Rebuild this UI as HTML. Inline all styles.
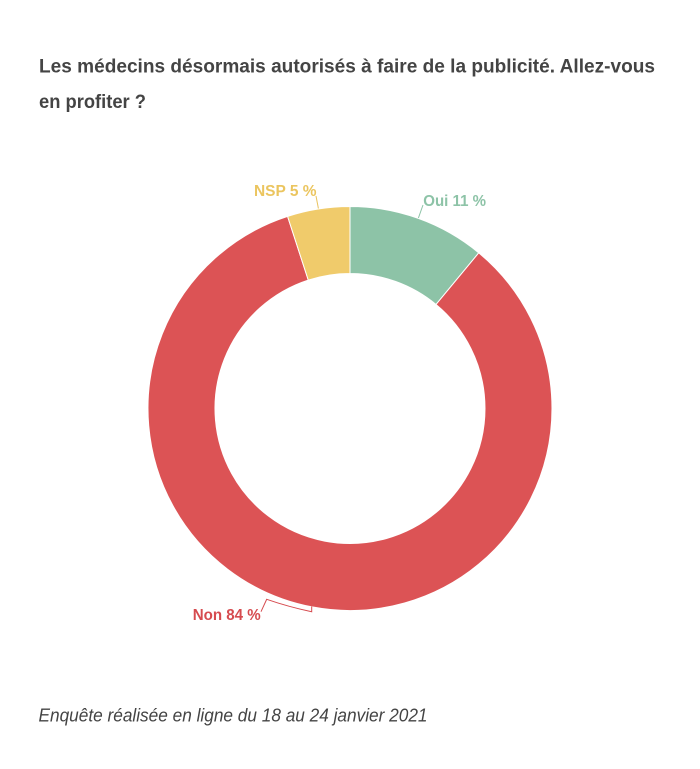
<!DOCTYPE html>
<html>
<head>
<meta charset="utf-8">
<style>
  html, body { margin: 0; padding: 0; background: #ffffff; }
  body { width: 700px; height: 769px; overflow: hidden; }
  svg { display: block; }
</style>
</head>
<body>
<svg width="700" height="769" viewBox="0 0 700 769" xmlns="http://www.w3.org/2000/svg">
  <rect x="0" y="0" width="700" height="769" fill="#ffffff"/>

  <!-- Title -->
  <text x="39" y="72.5" font-family="Liberation Sans, Arial, sans-serif" font-size="19.5" font-weight="bold" fill="#444444" textLength="616" lengthAdjust="spacingAndGlyphs">Les médecins désormais autorisés à faire de la publicité. Allez-vous</text>
  <text x="39" y="108" font-family="Liberation Sans, Arial, sans-serif" font-size="19.5" font-weight="bold" fill="#444444" textLength="107" lengthAdjust="spacingAndGlyphs">en profiter ?</text>

  <!-- Donut -->
  <g stroke="#ffffff" stroke-width="1" stroke-linejoin="round">
    <path d="M350 206.5 A202 202 0 0 1 478.75 252.86 L436.05 304.48 A135 135 0 0 0 350 273.5 Z" fill="#8dc3a7"/>
    <path d="M478.75 252.86 A202 202 0 1 1 287.58 216.38 L308.28 280.10 A135 135 0 1 0 436.05 304.48 Z" fill="#dc5355"/>
    <path d="M287.58 216.38 A202 202 0 0 1 350 206.5 L350 273.5 A135 135 0 0 0 308.28 280.10 Z" fill="#f0cb6b"/>
  </g>

  <!-- Leader lines -->
  <polyline points="316,196 318.4,208.5" fill="none" stroke="#e9c35f" stroke-width="1"/>
  <polyline points="423,205 418.4,218" fill="none" stroke="#8dc3a7" stroke-width="1"/>
  <path d="M311.7 606.5 L311.7 611.7 Q289 607 266.7 599.3 L261 611.7" fill="none" stroke="#d64b4f" stroke-width="1"/>

  <!-- Labels -->
  <text x="254" y="196" font-family="Liberation Sans, Arial, sans-serif" font-size="16" font-weight="bold" fill="#ebc55f" textLength="62.5" lengthAdjust="spacingAndGlyphs">NSP 5 %</text>
  <text x="423.3" y="206" font-family="Liberation Sans, Arial, sans-serif" font-size="16" font-weight="bold" fill="#8dc3a7" textLength="62.7" lengthAdjust="spacingAndGlyphs">Oui 11 %</text>
  <text x="192.7" y="620" font-family="Liberation Sans, Arial, sans-serif" font-size="16" font-weight="bold" fill="#d64b4f" textLength="68" lengthAdjust="spacingAndGlyphs">Non 84 %</text>

  <!-- Footer -->
  <text x="38.5" y="721.7" font-family="Liberation Sans, Arial, sans-serif" font-size="18" font-style="italic" fill="#444444" textLength="389" lengthAdjust="spacingAndGlyphs">Enquête réalisée en ligne du 18 au 24 janvier 2021</text>
</svg>
</body>
</html>
